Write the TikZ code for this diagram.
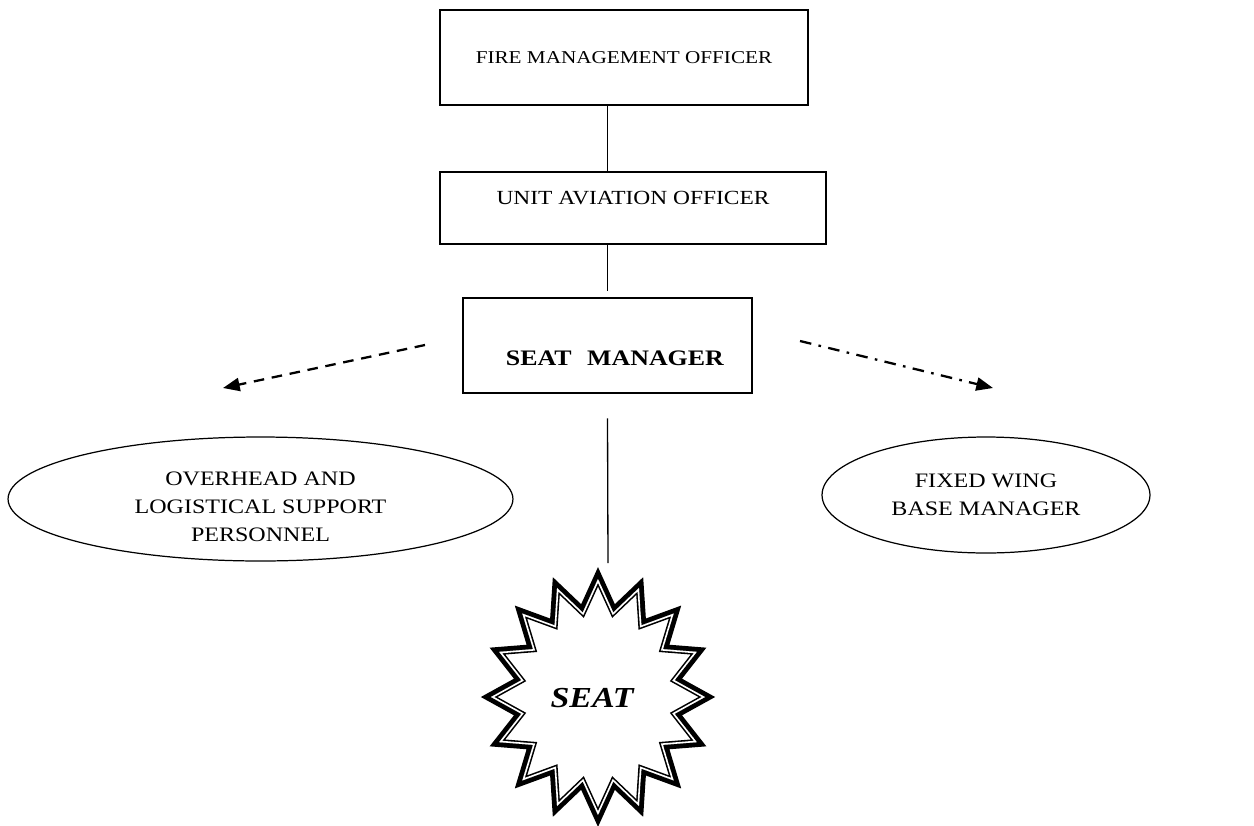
\documentclass[tikz,border=0pt]{standalone}
\usepackage{fontspec}
\setmainfont[FakeStretch=1.17]{Liberation Serif}
\usetikzlibrary{arrows.meta,shapes.geometric}

% sixteen point star round the SEAT label
\newcommand{\seatstar}{plot[variable=\k, samples at={0,...,32}]
  ({598+107*(1-0.27*mod(\k,2))*cos(90+11.25*\k)},
   {697-118*(1-0.27*mod(\k,2))*sin(90+11.25*\k)}) -- cycle}

\tikzset{
  orgbox/.style={draw, line width=0.75pt, inner sep=0pt},
  staff/.style={draw, ellipse, line width=0.7pt, inner sep=0pt, align=center,
    font=\fontsize{11.7}{15.9}\selectfont},
  link/.style={line width=0.75pt},
  tiparrow/.style={-{Triangle[length=9.5pt,width=7.5pt]}, line width=1.3pt}
}

\begin{document}
\begin{tikzpicture}[x=0.02cm, y=-0.02cm]
\useasboundingbox (0,0) rectangle (1254,825);

\draw[line width=5.6pt] \seatstar;
\begin{scope}
  \clip \seatstar;
  \fill[white] \seatstar;
  \draw[line width=3.6pt] \seatstar;
  \draw[white, line width=1.8pt] \seatstar;
\end{scope}

\node[orgbox, minimum width=7.36cm, minimum height=1.9cm,
  font=\fontsize{10.3}{12}\selectfont] (fmo) at (624,57.5) {FIRE MANAGEMENT OFFICER};
\node[orgbox, minimum width=7.72cm, minimum height=1.44cm,
  label={[yshift=5.4pt, font=\fontsize{11.4}{13}\selectfont]center:UNIT AVIATION OFFICER}] (uao) at (633,208) {};
\node[orgbox, minimum width=5.78cm, minimum height=1.9cm,
  label={[xshift=4.2pt, yshift=-7.1pt, font=\fontsize{12.6}{14}\selectfont\bfseries]center:SEAT\hspace{0.7em}MANAGER}] (sm) at (607.5,345.5) {};

\node[staff, minimum width=10.1cm, minimum height=2.48cm,
  label={[staff, draw=none, yshift=-4.5pt]center:OVERHEAD AND\\LOGISTICAL SUPPORT\\PERSONNEL}] (overhead) at (260.5,499) {};
\node[staff, minimum width=6.56cm, minimum height=2.32cm] (fwbm) at (986,495)
  {FIXED WING\\BASE MANAGER};

\node[font=\fontsize{16.5}{18}\selectfont\bfseries\itshape] (seat) at (592,698) {SEAT};

\coordinate (lefttail) at (425,345);
\coordinate (lefthead) at (223,388);
\coordinate (righttail) at (800,341);
\coordinate (righthead) at (993,388);
\coordinate (startop) at (608,563);

\draw[link] (sm |- fmo.south) -- (sm |- uao.north);
\draw[link, shorten >=3.4pt] (sm |- uao.south) -- (sm.north);
\draw[link] ([yshift=-14pt]sm.south) -- (startop);
\draw[tiparrow, dash pattern=on 6pt off 4.4pt] (lefttail) -- (lefthead);
\draw[tiparrow, dash pattern=on 6.6pt off 4.2pt on 1.5pt off 4.2pt] (righttail) -- (righthead);
\end{tikzpicture}
\end{document}
